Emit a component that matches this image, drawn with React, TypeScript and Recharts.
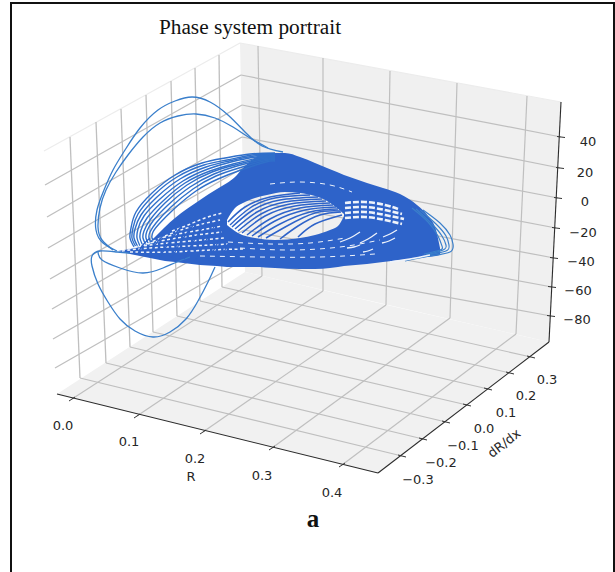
import { ComposedChart, Area, Line, XAxis, YAxis, ReferenceDot } from "recharts";

const WIDTH = 615;
const HEIGHT = 572;

type Pt = number[];

const wallBand = [[240, 43, 43], [245, 44, 272], [549, 100, 342], [561, 102, 102]];
const floorBand = [[57, 394, 394], [245, 272, 440], [378, 303, 473], [549, 342, 342]];

const leftWallTop: Pt[] = [[44, 151], [240, 43]];
const rightWallTop: Pt[] = [[240, 43], [561, 102]];

const sideVerticals: Pt[][] = [
  [[70, 137], [80, 378]], [[96, 122], [106, 363]], [[121, 109], [130, 347]], [[146, 95], [153, 332]],
  [[171, 81], [177, 316]], [[195, 68], [200, 301]], [[219, 55], [222, 287]],
];
const backVerticals: Pt[][] = [
  [[258, 46], [262, 276]], [[323, 58], [323, 291]], [[390, 71], [386, 305]], [[457, 83], [450, 318]], [[527, 96], [516, 334]],
];
const sideLevels: Pt[][] = [
  [[45, 185], [241, 75]], [[47, 217], [242, 105]], [[48, 248], [242, 137]], [[50, 279], [243, 168]],
  [[52, 309], [243, 199]], [[53, 339], [244, 230]], [[55, 368], [244, 260]],
];
const backLevels: Pt[][] = [
  [[241, 75], [561, 137]], [[242, 105], [560, 168]], [[242, 137], [558, 198]], [[243, 168], [556, 228]],
  [[243, 199], [554, 258]], [[244, 230], [552, 287]], [[244, 260], [551, 316]],
];
const floorAcross: Pt[][] = [
  [[72, 399], [262, 276]], [[137, 416], [323, 291]], [[203, 432], [386, 305]], [[272, 448], [450, 318]], [[342, 465], [516, 334]],
];
const floorAlong: Pt[][] = [
  [[80, 378], [402, 456]], [[106, 363], [423, 439]], [[130, 347], [446, 422]], [[153, 332], [467, 405]],
  [[177, 316], [488, 389]], [[200, 301], [510, 373]], [[222, 287], [531, 357]],
];

const rAxisLine: Pt[] = [[57, 394], [378, 473]];
const dAxisLine: Pt[] = [[378, 473], [549, 342]];
const zAxisLine: Pt[] = [[549, 342], [561, 102]];
const rTickMarks: Pt[] = [[72, 399], [137, 416], [203, 432], [272, 448], [342, 465]];
const dTickMarks: Pt[] = [[402, 456], [423, 439], [446, 422], [467, 405], [488, 389], [510, 373], [531, 357]];
const zTickMarks: Pt[] = [[561, 137], [560, 168], [558, 198], [556, 228], [554, 258], [552, 287], [551, 316]];

const rTickLabels: [string, number, number][] = [["0.0", 63, 425], ["0.1", 129, 441], ["0.2", 195, 458], ["0.3", 262, 475], ["0.4", 332, 492]];
const dTickLabels: [string, number, number][] = [
  ["\u22120.3", 418, 479], ["\u22120.2", 441, 462], ["\u22120.1", 463, 445], ["0.0", 484, 428],
  ["0.1", 506, 412], ["0.2", 526, 395], ["0.3", 547, 379],
];
const zTickLabels: [string, number, number][] = [
  ["40", 588, 141], ["20", 585, 172], ["0", 585, 201], ["\u221220", 583, 232],
  ["\u221240", 581, 261], ["\u221260", 578, 290], ["\u221280", 577, 319],
];

// solid part of the attractor: x, top, bottom
const bodyLeft = [[118, 251, 251], [130, 249, 254], [145, 245, 257], [155, 237, 259], [165, 227, 261], [175, 218, 262], [200, 200, 265], [217, 189, 266], [227, 183, 267]];
const bodyUpper = [[227, 183, 220], [235, 177, 208], [243, 168, 203], [255, 158, 198], [267, 153, 195], [285, 153, 192], [300, 157, 193], [315, 163, 196], [327, 168, 201], [337, 172, 208], [344, 175, 214]];
const bodyLower = [[227, 225, 267], [238, 233, 267], [255, 238, 267], [275, 240, 268], [300, 238, 269], [315, 235, 269], [330, 230, 268], [338, 226, 267], [344, 216, 266]];
const bodyRight = [[344, 175, 266], [367, 183, 264], [383, 188, 262], [400, 194, 260], [417, 205, 258], [428, 216, 257], [436, 230, 256], [440, 248, 255]];

const upperLobes: Pt[][] = [
  [[117, 251], [103, 243], [96, 230], [97, 210], [104, 190], [113, 170], [125, 150], [140, 128], [158, 110], [175, 101], [192, 97], [210, 102], [228, 115], [245, 132], [262, 146], [283, 152]],
  [[113, 250], [102, 240], [98, 227], [100, 208], [106, 190], [116, 172], [128, 155], [143, 137], [160, 123], [178, 116], [196, 114], [215, 118], [233, 127], [250, 138], [268, 148]],
];
const lowerLobes: Pt[][] = [
  [[215, 267], [208, 282], [198, 301], [186, 319], [170, 332], [153, 337], [135, 331], [120, 319], [108, 302], [98, 284], [92, 266], [92, 256], [100, 251], [117, 252], [130, 253]],
  [[98, 252], [102, 260], [120, 268], [143, 273], [163, 268], [177, 262], [190, 257]],
];
const outerArcs: Pt[][] = [
  [[134, 247], [130, 238], [131, 228], [136, 212], [152, 193], [175, 175], [202, 163], [225, 158], [250, 154], [275, 153]],
  [[136, 247], [132, 238], [133, 228], [138, 214], [154, 195], [177, 177], [204, 165], [227, 160], [252, 155], [275, 154]],
  [[138, 247], [134, 238], [135, 229], [141, 215], [157, 197], [180, 179], [206, 167], [229, 161], [254, 156], [275, 155]],
  [[140, 246], [137, 238], [138, 229], [144, 216], [160, 199], [183, 181], [208, 169], [231, 162], [256, 157], [275, 156]],
  [[143, 246], [140, 238], [141, 230], [147, 218], [163, 201], [185, 183], [210, 171], [233, 164], [258, 158], [275, 157]],
  [[146, 245], [143, 238], [144, 231], [150, 220], [165, 203], [187, 185], [212, 172], [235, 165], [260, 159], [275, 158]],
  [[149, 245], [146, 238], [147, 231], [153, 221], [168, 205], [190, 187], [214, 174], [237, 166], [262, 160], [275, 159]],
  [[152, 244], [149, 238], [150, 232], [156, 223], [171, 207], [193, 189], [216, 176], [239, 168], [264, 161], [275, 160]],
  [[155, 243], [152, 238], [153, 232], [159, 224], [174, 209], [196, 191], [218, 179], [241, 170], [266, 162], [275, 161]],
];
const holeArcs: Pt[][] = [
  [[228, 222], [245, 207], [270, 197], [300, 193]],
  [[230, 225], [250, 208], [275, 198], [310, 195]],
  [[232, 227], [253, 210], [280, 200], [318, 197]],
  [[235, 229], [257, 212], [285, 202], [322, 199]],
  [[238, 231], [261, 214], [290, 204], [326, 201]],
  [[242, 233], [265, 216], [295, 206], [330, 203]],
  [[247, 235], [270, 219], [300, 208], [333, 205]],
  [[252, 236], [275, 221], [305, 210], [336, 207]],
  [[258, 237], [280, 224], [310, 212], [338, 209]],
  [[266, 238], [287, 226], [315, 213], [340, 211]],
  [[280, 239], [298, 226], [320, 215], [341, 212]],
  [[298, 237], [315, 224], [342, 215]],
];
const tipArcs: Pt[][] = [
  [[423, 210], [440, 223], [450, 235], [453, 244], [450, 252], [430, 256], [405, 261]],
  [[420, 210], [436, 224], [446, 236], [449, 245], [446, 251], [428, 255]],
  [[416, 209], [432, 224], [442, 236], [446, 245], [443, 250], [426, 255]],
  [[412, 208], [428, 222], [438, 236], [442, 246], [440, 250], [424, 254]],
];
// thin light slits where the windings leave the paper showing
const gapsLeft: Pt[][] = [
  [[122, 251], [150, 248], [190, 246], [228, 244]],
  [[128, 249], [150, 245], [190, 241], [225, 238]],
  [[135, 247], [155, 242], [190, 236], [222, 232]],
  [[148, 244], [165, 237], [195, 231], [222, 226]],
  [[160, 238], [178, 231], [198, 225], [220, 220]],
  [[172, 231], [188, 225], [205, 218], [222, 213]],
  [[130, 252], [170, 252], [210, 250], [245, 249]],
];
// windings that cut across those slits
const crossLeft: Pt[][] = [
  [[138, 254], [142, 246], [150, 238]],
  [[150, 256], [156, 244], [166, 232]],
  [[160, 257], [168, 244], [180, 228]],
  [[172, 258], [180, 243], [194, 224]],
  [[184, 259], [192, 244], [206, 222]],
  [[196, 260], [204, 244], [218, 220]],
  [[208, 260], [216, 246], [226, 226]],
  [[220, 260], [226, 248], [232, 236]],
];
const gapsBottom: Pt[][] = [
  [[228, 242], [270, 244], [310, 243], [345, 238]],
  [[240, 248], [290, 250], [340, 247], [380, 240]],
  [[200, 256], [260, 257], [320, 257], [375, 254]],
  [[270, 184], [300, 182], [330, 185], [352, 192]],
];
const gapsBlocks: Pt[][] = [
  [[345, 203], [365, 202], [385, 205], [398, 209]],
  [[345, 208], [365, 207], [385, 210], [402, 214]],
  [[345, 213], [365, 212], [385, 215], [404, 219]],
  [[345, 218], [365, 217], [385, 220], [402, 224]],
];
const gapsSlits: Pt[][] = [
  [[340, 242], [350, 238], [360, 232]],
  [[360, 243], [368, 239], [377, 233]],
  [[383, 237], [390, 234], [397, 230]],
  [[382, 243], [389, 241], [395, 238]],
  [[347, 248], [354, 247], [360, 245]],
  [[363, 252], [368, 251], [373, 249]],
  [[390, 262], [410, 259], [430, 255]],
];

const rows = (pts: Pt[]) => pts.map(([x, y]) => ({ x, y }));
const bandRows = (pts: number[][]) => pts.map(([x, top, bottom]) => ({ x, band: [top, bottom] }));

const GRID = "#bfbfbf";
const DENSE = "#2e63c9";
const THIN = "#3a7fcb";
const ARC = "#3070ca";
const GAP = "#eef3fb";

const lineProps = { dataKey: "y", dot: false, activeDot: false, isAnimationActive: false, legendType: "none" as const };

function curves(list: Pt[][], key: string, stroke: string, width: number, type: any = "natural", dash?: string) {
  return list.map((pts, i) => (
    <Line key={`${key}${i}`} {...lineProps} data={rows(pts)} type={type} stroke={stroke} strokeWidth={width} strokeDasharray={dash} />
  ));
}

function band(pts: number[][], key: string, fill: string, type: any = "linear") {
  return <Area key={key} data={bandRows(pts)} dataKey="band" type={type} fill={fill} fillOpacity={1} stroke="none" activeDot={false} isAnimationActive={false} legendType="none" />;
}

function tickSegments(list: Pt[], dx: number, dy: number, key: string) {
  return curves(list.map(([x, y]) => [[x - dx, y - dy], [x + dx, y + dy]]), key, "#333333", 1, "linear");
}

function textAt(key: string, value: string, x: number, y: number, extra: object = {}) {
  return (
    <ReferenceDot key={key} x={x} y={y} r={0} fill="none" stroke="none" ifOverflow="visible"
      label={{ value, position: "center", fontSize: 13, fill: "#262626", fontFamily: "DejaVu Sans", ...extra }} />
  );
}

function Plane({ children }: { children: React.ReactNode }) {
  return (
    <div style={{ position: "absolute", left: 0, top: 0 }}>
      <ComposedChart width={WIDTH} height={HEIGHT} margin={{ top: 0, right: 0, bottom: 0, left: 0 }}>
        <XAxis dataKey="x" type="number" domain={[0, WIDTH]} hide allowDuplicatedCategory />
        <YAxis type="number" domain={[0, HEIGHT]} reversed hide />
        {children}
      </ComposedChart>
    </div>
  );
}

export default function App() {
  return (
    <div style={{ position: "absolute", left: 0, top: 0, width: WIDTH, height: HEIGHT, background: "#fff", overflow: "hidden" }}>
      <Plane>
        {band(wallBand, "wall", "#f0f0f0")}
        {band(floorBand, "floor", "#f1f1f1")}
        {curves([leftWallTop, rightWallTop], "edge", "#ececec", 1.2, "linear")}
        {curves(sideVerticals, "sv", GRID, 1.3, "linear")}
        {curves(sideLevels, "sl", GRID, 1.3, "linear")}
        {curves(backVerticals, "bv", GRID, 1.2, "linear")}
        {curves(backLevels, "bl", GRID, 1.2, "linear")}
        {curves(floorAcross, "fa", GRID, 1.2, "linear")}
        {curves(floorAlong, "fl", GRID, 1.2, "linear")}
        {curves([rAxisLine, dAxisLine, zAxisLine], "axis", "#2b2b2b", 1.1, "linear")}
        {tickSegments(rTickMarks, 3, -2, "rt")}
        {tickSegments(dTickMarks, 4, 1, "dt")}
        {tickSegments(zTickMarks, 4, 0.5, "zt")}
        {rTickLabels.map(([t, x, y]) => textAt(`r${t}`, t, x, y))}
        {dTickLabels.map(([t, x, y]) => textAt(`d${t}`, t, x, y))}
        {zTickLabels.map(([t, x, y]) => textAt(`z${t}`, t, x, y))}
        {textAt("rName", "R", 191, 476)}
        {textAt("dName", "dR/dx", 504, 443, { angle: -38 })}
        {textAt("title", "Phase system portrait", 250, 26, { fontSize: 21.3, fontFamily: "Liberation Serif", fill: "#111" })}
        {textAt("panel", "a", 313, 518, { fontSize: 25, fontWeight: 700, fontFamily: "Liberation Serif", fill: "#111" })}
      </Plane>
      <Plane>
        {band(bodyLeft, "bodyLeft", DENSE, "monotone")}
        {band(bodyUpper, "bodyUpper", DENSE, "monotone")}
        {band(bodyLower, "bodyLower", DENSE, "monotone")}
        {band(bodyRight, "bodyRight", DENSE, "monotone")}
        {curves(upperLobes, "ul", THIN, 1.3)}
        {curves(lowerLobes, "ll", THIN, 1.3)}
        {curves(outerArcs, "oa", ARC, 1.4)}
        {curves(holeArcs, "ha", DENSE, 1.5)}
        {curves(tipArcs, "ta", THIN, 1.2)}
        {curves(gapsLeft, "gl", GAP, 1.5, "natural", "3 2.5")}
        {curves(crossLeft, "cl", DENSE, 1.3)}
        {curves(gapsBottom, "gb", GAP, 1, "natural", "5 5")}
        {curves(gapsBlocks, "gk", GAP, 2.6, "natural", "6 2")}
        {curves(gapsSlits, "gs", GAP, 1.3)}
      </Plane>
      <div style={{ position: "absolute", left: 10, top: 2, right: 0, bottom: -4, borderLeft: "2px solid #111", borderTop: "2px solid #111", borderRight: "2px solid #111", boxSizing: "border-box", pointerEvents: "none" }} />
    </div>
  );
}
